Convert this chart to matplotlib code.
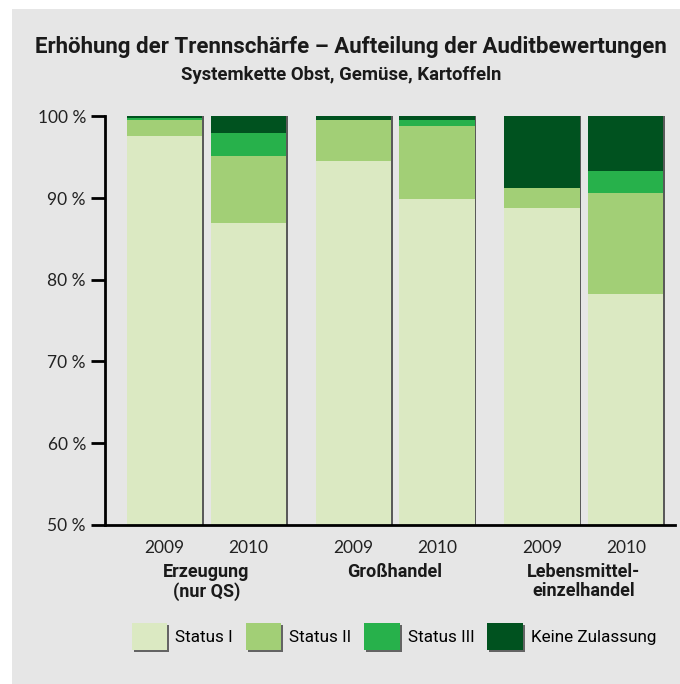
import numpy as np
import matplotlib.pyplot as plt
import matplotlib.patheffects as pe
from matplotlib.patches import Rectangle
from matplotlib.transforms import blended_transform_factory

# Data (percent of audits per rating)
groups = ["Erzeugung\n(nur QS)", "Großhandel", "Lebensmittel-\neinzelhandel"]
years = ["2009", "2010"]
status_1 = [[97.6, 86.9], [94.5, 89.9], [88.8, 78.3]]
status_2 = [[2.0, 8.25], [5.0, 8.9], [2.4, 12.3]]
status_3 = [[0.2, 2.85], [0.1, 0.7], [0.0, 2.7]]
keine = [[0.2, 2.0], [0.4, 0.5], [8.8, 6.7]]

series = [status_1, status_2, status_3, keine]
labels = ["Status I", "Status II", "Status III", "Keine Zulassung"]
colors = ["#dbe9c2", "#a2cf76", "#27b14b", "#00521f"]

cond = ["Roboto", "DejaVu Sans"]
plt.rcParams['font.family'] = ["Lato", "DejaVu Sans"]

fig = plt.figure(figsize=(6.8, 6.84), dpi=100)
fig.patch.set_facecolor("white")
fig.patches.append(Rectangle((0.017, 0), 0.983, 0.987, transform=fig.transFigure,
                             facecolor="#e6e6e6", edgecolor="none", zorder=-10))

ax = fig.add_axes([0.155, 0.2325, 0.838, 0.5975])
ax.set_facecolor("none")

width = 0.398
offsets = [-0.222, 0.222]
xs = []
for g in range(len(groups)):
    for k in range(len(years)):
        x = g + offsets[k]
        xs.append(x)
        bottom = 0.0
        total = sum(s[g][k] for s in series)
        # shadow on the right edge
        ax.bar(x + 0.01, total, width=width, color="#5a5a5a", zorder=1)
        for s, c in zip(series, colors):
            ax.bar(x, s[g][k], width=width, bottom=bottom, color=c, zorder=2)
            bottom += s[g][k]

ax.set_ylim(50, 100)
ax.set_xlim(-0.534, 2.484)
ax.set_yticks(np.arange(50, 101, 10))
ax.set_yticklabels([f"{v} %" for v in range(50, 101, 10)], fontsize=12.5,
                   color="#222222")
ax.set_xticks(xs)
ax.set_xticklabels(years * len(groups), fontsize=12.5, color="#222222")
ax.tick_params(axis="x", length=0, pad=11)
ax.tick_params(axis="y", length=10, width=2, pad=4)
for side in ["top", "right"]:
    ax.spines[side].set_visible(False)
ax.spines["left"].set_linewidth(2)
ax.spines["bottom"].set_linewidth(2)

trans = blended_transform_factory(ax.transData, ax.transAxes)
for g, name in enumerate(groups):
    ax.text(g, -0.092, name, transform=trans, ha="center", va="top",
            fontsize=13, fontweight="bold", family=cond, linespacing=1.1,
            color="#1a1a1a")

fig.text(0.516, 0.931, "Erhöhung der Trennschärfe – Aufteilung der Auditbewertungen",
         ha="center", va="center", fontsize=16, fontweight="bold", family=cond,
         color="#1a1a1a")
fig.text(0.502, 0.891, "Systemkette Obst, Gemüse, Kartoffeln",
         ha="center", va="center", fontsize=13.3, fontweight="bold", family=cond,
         color="#1a1a1a")

shadow = [pe.SimplePatchShadow(offset=(1.5, -1.5), shadow_rgbFace="#444444", alpha=0.8),
          pe.Normal()]
handles = [Rectangle((0, 0), 1, 1, facecolor=c, edgecolor="none", path_effects=shadow)
           for c in colors]
fig.legend(handles, labels, loc="center", bbox_to_anchor=(0.579, 0.069),
           ncol=4, frameon=False, handlelength=2.1, handleheight=2.05,
           handletextpad=0.45, columnspacing=0.75,
           prop={"family": cond, "size": 12.3})

fig.savefig("out.png", dpi=100)
